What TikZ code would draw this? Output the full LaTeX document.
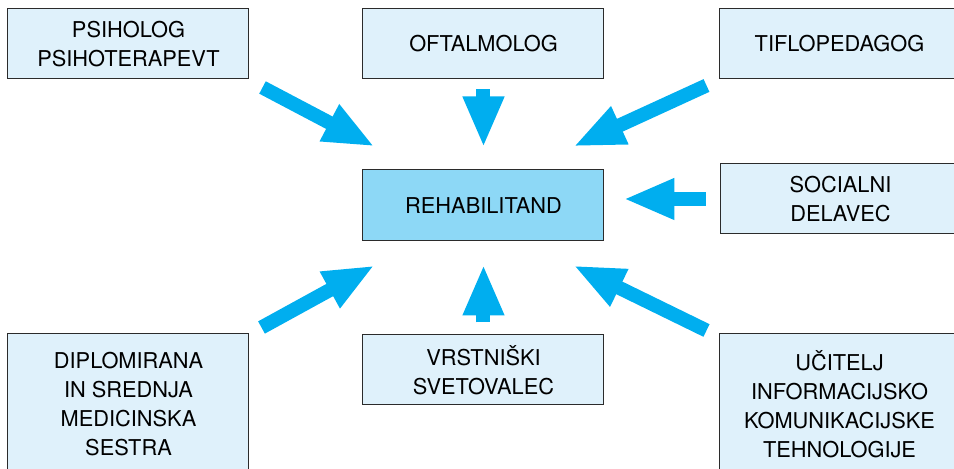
\documentclass[tikz,border=0pt]{standalone}
\usepackage{fontspec}
\setmainfont{TeX Gyre Heros}
\usetikzlibrary{arrows.meta, positioning, calc}
\definecolor{rhcyan}{HTML}{00AEEF}
\definecolor{rhlight}{HTML}{DFF1FB}
\definecolor{rhmid}{HTML}{8DD8F6}
\definecolor{rhdark}{HTML}{2B2B2B}
\tikzset{
  role/.style={rectangle, minimum width=120.5pt, minimum height=35pt, inner sep=2pt,
    draw=rhdark, line width=0.5pt, fill=rhlight, align=center,
    font=\fontsize{10.9}{14.5}\selectfont},
  tallrole/.style={role, minimum height=70pt},
  client/.style={role, fill=rhmid, minimum height=35.5pt},
  bigarr/.style={-{Triangle[length=25.5pt, width=19pt]}, line width=7pt, rhcyan},
}

\begin{document}
\begin{tikzpicture}
    \clip (-241.75pt,-131.75pt) rectangle (235.25pt,102.75pt);
    \node[client] (rehab) {REHABILITAND};
    \node[role, above=45pt of rehab, xshift=-177.5pt] (psi) {PSIHOLOG\\PSIHOTERAPEVT};
    \node[role, above=45pt of rehab] (oft) {OFTALMOLOG};
    \node[role, above=45pt of rehab, xshift=178pt] (tiflo) {TIFLOPEDAGOG};
    \node[role, right=57.5pt of rehab, yshift=3.25pt] (soc) {SOCIALNI\\DELAVEC};
    \node[tallrole, below=46pt of rehab, xshift=-177.5pt] (dipl) {DIPLOMIRANA\\IN SREDNJA\\MEDICINSKA\\SESTRA};
    \node[role, below=46.5pt of rehab] (vrst) {VRSTNIŠKI\\SVETOVALEC};
    \node[tallrole, below=46pt of rehab, xshift=178pt] (uc) {UČITELJ\\INFORMACIJSKO\\KOMUNIKACIJSKE\\TEHNOLOGIJE};
    \draw[bigarr] ([shift={(6.5pt,-4pt)}]psi.south east) -- ([shift={(6pt,11.5pt)}]rehab.north west);
    \draw[bigarr] ([yshift=-5pt]oft.south) -- ([yshift=11pt]rehab.north);
    \draw[bigarr] ([shift={(-6pt,-3pt)}]tiflo.south west) -- ([shift={(-15.5pt,11.5pt)}]rehab.north east);
    \draw[bigarr] ([xshift=-7pt]soc.west) -- ($(soc.west -| rehab.east)+(9.5pt,0)$);
    \draw[bigarr] ([shift={(6pt,3pt)}]dipl.north east) -- ([shift={(6pt,-12pt)}]rehab.south west);
    \draw[bigarr] ([yshift=6pt]vrst.north) -- ([yshift=-11.5pt]rehab.south);
    \draw[bigarr] ([shift={(-6pt,1.5pt)}]uc.north west) -- ([shift={(-15.5pt,-12pt)}]rehab.south east);
  \end{tikzpicture}
\end{document}
